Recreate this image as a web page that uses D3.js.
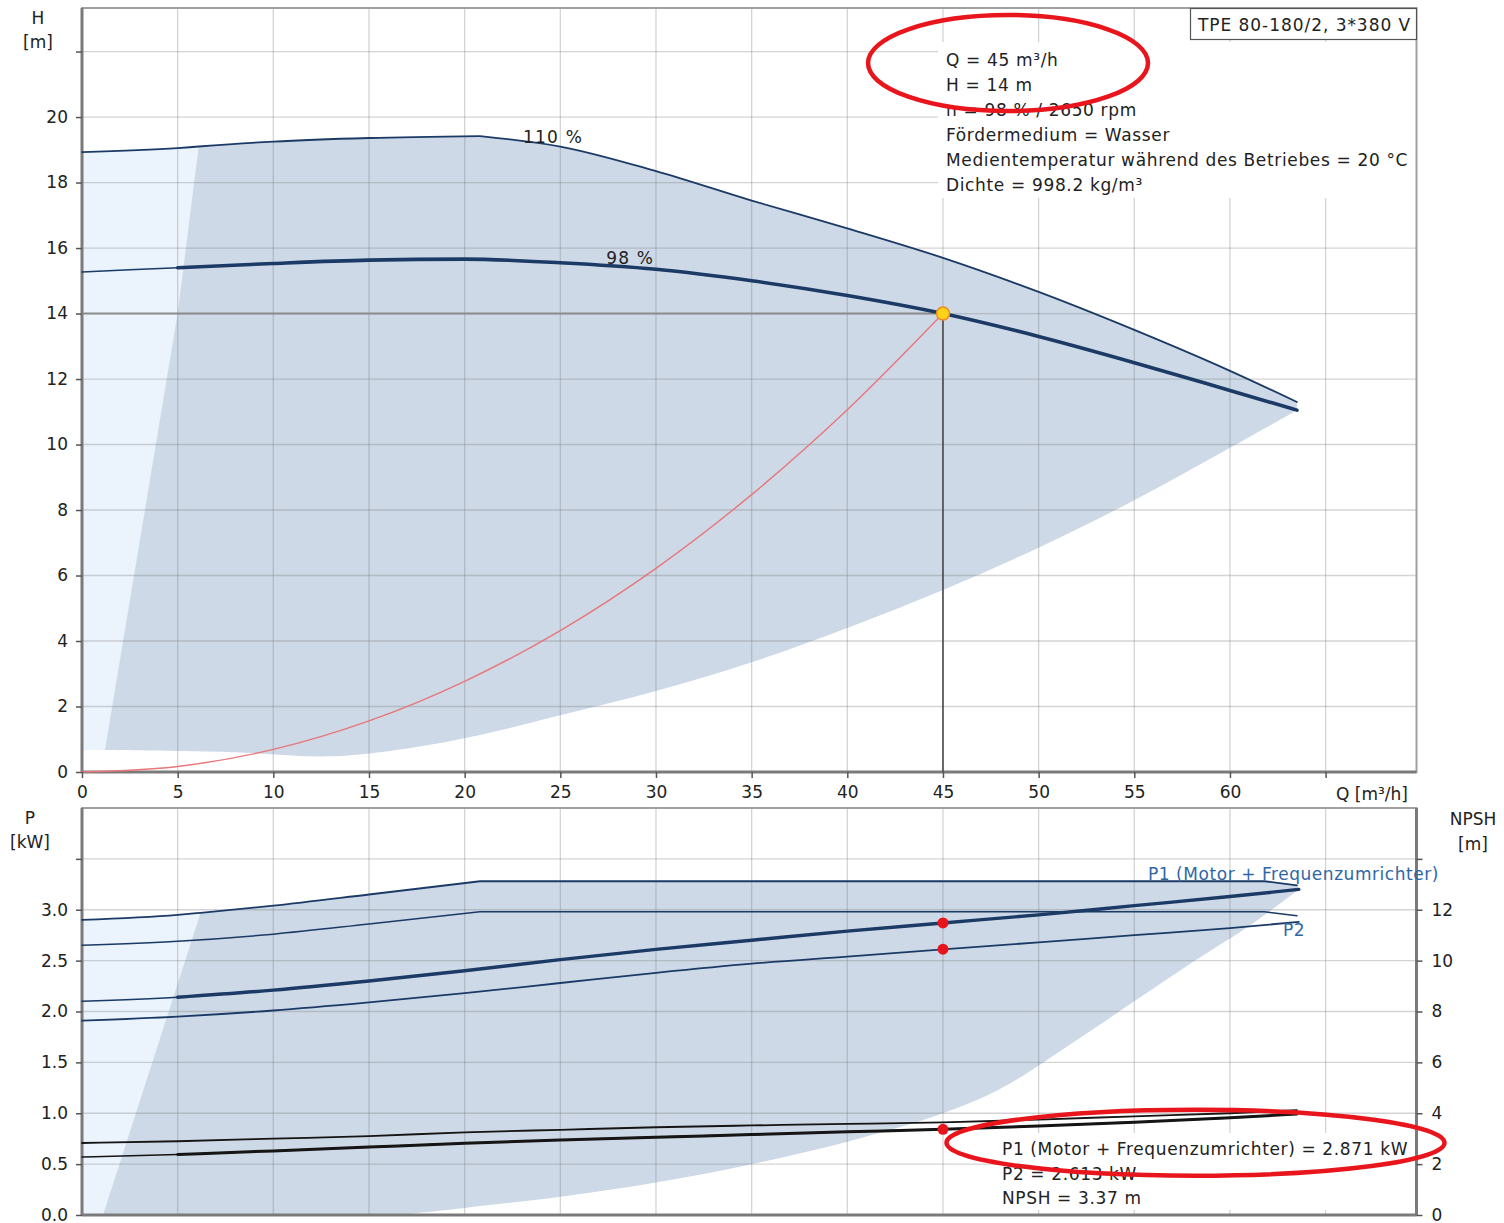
<!DOCTYPE html>
<html><head><meta charset="utf-8">
<script src="https://cdn.jsdelivr.net/npm/d3@7"></script>
<style>
body{margin:0;background:#fff}
svg{display:block}
text{font-family:"DejaVu Sans",Verdana,sans-serif;fill:#222}
</style>
</head><body>
<svg id="c" width="1504" height="1223"></svg>
<script>
// ================= DATA =================
const qTicks = [0,5,10,15,20,25,30,35,40,45,50,55,60,65];
const qLabels = ["0","5","10","15","20","25","30","35","40","45","50","55","60",""];
const qGrid = [5,10,15,20,25,30,35,40,45,50,55,60,65];
const hTicks = [0,2,4,6,8,10,12,14,16,18,20,22];
const hLabels = ["0","2","4","6","8","10","12","14","16","18","20",""];
const pTicks = [0,0.5,1.0,1.5,2.0,2.5,3.0,3.5];
const pLabels = ["0.0","0.5","1.0","1.5","2.0","2.5","3.0",""];
const nTicks = [0,2,4,6,8,10,12,14];
const nLabels = ["0","2","4","6","8","10","12",""];

// H(Q) curves
const h110Q = [0,5,6.1,10,15,20.8,25,30,35,40,45,50,55,60,63.5];
const h110H = [18.93,19.05,19.1,19.25,19.36,19.42,19.1,18.35,17.45,16.6,15.7,14.66,13.5,12.25,11.3];
const h98Q  = [0,5,10,15,20,25,30,35,40,45,50,55,60,63.5];
const h98H  = [15.27,15.4,15.53,15.63,15.66,15.55,15.35,15.0,14.55,14.0,13.3,12.5,11.65,11.05];
const sysQ  = [0,5,10,15,20,25,30,35,40,45];
const sysH  = [0,0.17,0.69,1.56,2.77,4.32,6.22,8.47,11.06,14.0];
// operating range (H)
const hEdgeQ = [1.2,5];
const hEdgeH = [0.67,14];
const hLowQ = [63.5,60,55,50,45,40,35,30,25,20.8,17,13,8,1.2];
const hLowH = [11.05,9.9,8.3,6.85,5.56,4.4,3.35,2.47,1.73,1.13,0.72,0.48,0.6,0.67];

// P(Q) curves
const p1maxQ = [0,5,6.2,10,15,20.8,40,61.8,63.5];
const p1maxP = [2.90,2.95,2.97,3.04,3.15,3.28,3.28,3.28,3.24];
const p2maxQ = [0,5,10,15,20.8,40,61.8,63.5];
const p2maxP = [2.65,2.69,2.76,2.86,2.98,2.98,2.98,2.94];
const p1Q = [0,5,10,15,20,25,30,35,40,45,50,55,60,63.6];
const p1P = [2.10,2.14,2.21,2.30,2.40,2.51,2.61,2.70,2.79,2.87,2.95,3.04,3.13,3.20];
const p2Q = [0,5,10,15,20,25,30,35,40,45,50,55,60,63.6];
const p2P = [1.91,1.95,2.01,2.09,2.18,2.28,2.38,2.47,2.54,2.61,2.68,2.75,2.82,2.88];
// NPSH curves
const nMaxQ = [0,5,10,15,20,25,30,35,40,45,50,55,60,63.5];
const nMaxV = [2.83,2.9,3.0,3.1,3.25,3.35,3.45,3.52,3.58,3.64,3.75,3.88,4.0,4.12];
const nQ = [0,5,10,15,20,25,30,35,40,45,50,55,60,63.5];
const nV = [2.28,2.38,2.52,2.67,2.82,2.95,3.06,3.16,3.27,3.37,3.5,3.65,3.82,3.97];
// operating range (P)
const pEdgeQ = [1.1];
const pEdgeP = [0];
const pLowQ = [63.6,61,58,55,52,48,45,40,35,30,25,20,16.5];
const pLowP = [3.2,2.84,2.48,2.1,1.72,1.24,1.0,0.72,0.5,0.32,0.18,0.07,0];
const pBaseQ = [16.5,1.1];
const pBaseP = [0,0];

// duty point
const dutyQ = 45, dutyH = 14, dutyP1 = 2.871, dutyP2 = 2.613, dutyNPSH = 3.37;

const title = "TPE 80-180/2, 3*380 V";
const infoTop = ["Q = 45 m³/h","H = 14 m","n = 98 % / 2650 rpm","Fördermedium = Wasser",
  "Medientemperatur während des Betriebes = 20 °C","Dichte = 998.2 kg/m³"];
const infoBottom = ["P1 (Motor + Frequenzumrichter) = 2.871 kW","P2 = 2.613 kW","NPSH = 3.37 m"];

// ================= SCALES =================
const svg = d3.select("#c");
const x  = d3.scaleLinear().domain([0,69.75]).range([82,1416.5]);
const yH = d3.scaleLinear().domain([0,23.33]).range([772,8]);
const yP = d3.scaleLinear().domain([0,4.0]).range([1215,808]);
const yN = d3.scaleLinear().domain([0,16]).range([1215,808]);

const NAVY = "#1b3a66", FILL = "#cdd9e7", LIGHT = "#ebf3fc", GRID = "rgba(120,120,120,0.32)";

function pts(Q,V){return Q.map((q,i)=>[q,V[i]]);}
function curvePath(Q,V,ys,knees,from,to){
  let p = pts(Q,V);
  if(from!=null) p = p.filter(d=>d[0]>=from);
  if(to!=null) p = p.filter(d=>d[0]<=to);
  const pieces=[]; let cur=[];
  p.forEach(d=>{cur.push(d); if(knees.includes(d[0]) && cur.length>1){pieces.push(cur); cur=[d];}});
  if(cur.length>1) pieces.push(cur);
  const lg = d3.line().x(d=>x(d[0])).y(d=>ys(d[1])).curve(d3.curveMonotoneX);
  return pieces.map((pc,i)=> i===0 ? lg(pc) : lg(pc).replace(/^M[^A-Za-z]*/,"")).join("");
}
function linPath(Q,V,ys){
  return d3.line().x(d=>x(d[0])).y(d=>ys(d[1]))(pts(Q,V));
}
function smoothPath(Q,V,ys){
  return d3.line().x(d=>x(d[0])).y(d=>ys(d[1])).curve(d3.curveCatmullRom.alpha(0.5))(pts(Q,V));
}
const toL = s => s.replace(/^M/,"L");

// ================= FILLS =================
svg.append("path")
  .attr("d", curvePath(h110Q,h110H,yH,[20.8],null,6.1) + `L${x(6.1)},${yH(0.67)}L${x(0)},${yH(0.67)}Z`)
  .attr("fill",LIGHT);
svg.append("path")
  .attr("d", linPath(hEdgeQ,hEdgeH,yH) + toL(curvePath(h110Q,h110H,yH,[20.8],6.1,null)) + toL(smoothPath(hLowQ,hLowH,yH)) + "Z")
  .attr("fill",FILL);
svg.append("path")
  .attr("d", curvePath(p1maxQ,p1maxP,yP,[20.8,61.8],null,6.2) + `L${x(6.2)},${yP(0)}L${x(0)},${yP(0)}Z`)
  .attr("fill",LIGHT);
svg.append("path")
  .attr("d", linPath(pEdgeQ,pEdgeP,yP) + toL(curvePath(p1maxQ,p1maxP,yP,[20.8,61.8],6.2,null)) + toL(smoothPath(pLowQ,pLowP,yP)) + toL(linPath(pBaseQ,pBaseP,yP)) + "Z")
  .attr("fill",FILL);

// ================= GRID =================
const grid = svg.append("g").attr("stroke",GRID).attr("stroke-width",1.3);
qGrid.forEach(q=>{
  grid.append("line").attr("x1",x(q)).attr("x2",x(q)).attr("y1",yH.range()[1]).attr("y2",yH.range()[0]);
  grid.append("line").attr("x1",x(q)).attr("x2",x(q)).attr("y1",yP.range()[1]).attr("y2",yP.range()[0]);
});
hTicks.slice(1).forEach(h=>{
  grid.append("line").attr("x1",x(0)).attr("x2",x.range()[1]).attr("y1",yH(h)).attr("y2",yH(h));
});
pTicks.slice(1).forEach(p=>{
  grid.append("line").attr("x1",x(0)).attr("x2",x.range()[1]).attr("y1",yP(p)).attr("y2",yP(p));
});

// ================= TEXT BOXES (white) =================
svg.append("rect").attr("x",938).attr("y",42).attr("width",x.range()[1]-938).attr("height",156).attr("fill","#fff");
svg.append("rect").attr("x",997).attr("y",1133).attr("width",x.range()[1]-997).attr("height",77).attr("fill","#fff");

// ================= FRAMES =================
[yH,yP].forEach(ys=>{
  svg.append("rect").attr("x",x(0)).attr("y",ys.range()[1]).attr("width",x.range()[1]-x(0)).attr("height",ys.range()[0]-ys.range()[1])
    .attr("fill","none").attr("stroke","#a0a0a0").attr("stroke-width",2);
});
const axisStroke = (x1,y1,x2,y2)=>svg.append("line").attr("x1",x1).attr("y1",y1).attr("x2",x2).attr("y2",y2).attr("stroke","#7a7a7a").attr("stroke-width",3);
axisStroke(x(0),yH.range()[1],x(0),yH(0));
axisStroke(x(0),yH(0),x.range()[1],yH(0));
axisStroke(x(0),yP.range()[1],x(0),yP(0));
axisStroke(x(0),yP(0),x.range()[1],yP(0));
axisStroke(x.range()[1],yP.range()[1],x.range()[1],yP(0));

// ================= CURVES =================
function drawCurve(d,color,w){
  svg.append("path").attr("d",d).attr("fill","none").attr("stroke",color).attr("stroke-width",w)
    .attr("stroke-linejoin","round").attr("stroke-linecap","round");
}
drawCurve(d3.line().x(d=>x(d[0])).y(d=>yH(d[1])).curve(d3.curveMonotoneX)(pts(sysQ,sysH)),"#e8767a",1.4);
svg.append("line").attr("x1",x(0)).attr("x2",x(dutyQ)).attr("y1",yH(dutyH)).attr("y2",yH(dutyH)).attr("stroke","#8c8c8c").attr("stroke-width",2);
svg.append("line").attr("x1",x(dutyQ)).attr("x2",x(dutyQ)).attr("y1",yH(dutyH)).attr("y2",yH(0)).attr("stroke","#4a4a4a").attr("stroke-width",1.6);

drawCurve(curvePath(h110Q,h110H,yH,[20.8]),NAVY,1.8);
drawCurve(curvePath(h98Q,h98H,yH,[]),NAVY,1.6);
drawCurve(curvePath(h98Q,h98H,yH,[],5,null),NAVY,3.6);

drawCurve(curvePath(p1maxQ,p1maxP,yP,[20.8,61.8]),NAVY,1.8);
drawCurve(curvePath(p2maxQ,p2maxP,yP,[20.8,61.8]),NAVY,1.5);
drawCurve(curvePath(p1Q,p1P,yP,[]),NAVY,1.6);
drawCurve(curvePath(p1Q,p1P,yP,[],5,null),NAVY,3.4);
drawCurve(curvePath(p2Q,p2P,yP,[]),NAVY,1.8);
drawCurve(curvePath(nMaxQ,nMaxV,yN,[]),"#151515",1.8);
drawCurve(curvePath(nQ,nV,yN,[]),"#151515",1.6);
drawCurve(curvePath(nQ,nV,yN,[],5,null),"#151515",3.0);

svg.append("circle").attr("cx",x(dutyQ)).attr("cy",yH(dutyH)).attr("r",6.5).attr("fill","#ffd21a").attr("stroke","#f08a1c").attr("stroke-width",1.5);
[[yP,dutyP1],[yP,dutyP2],[yN,dutyNPSH]].forEach(([ys,v])=>{
  svg.append("circle").attr("cx",x(dutyQ)).attr("cy",ys(v)).attr("r",5.5).attr("fill","#e8141c");
});

// ================= AXES =================
function styleAxis(g){
  g.select(".domain").remove();
  g.selectAll(".tick line").attr("stroke","#555").attr("stroke-width",1.5);
  g.selectAll(".tick text").attr("font-size",17).attr("fill","#222").style("font-family",'"DejaVu Sans",Verdana,sans-serif');
}
svg.append("g").attr("transform",`translate(${x(0)},0)`)
  .call(d3.axisLeft(yH).tickValues(hTicks).tickFormat((d,i)=>hLabels[i]).tickSize(6).tickPadding(8)).call(styleAxis);
svg.append("g").attr("transform",`translate(0,${yH(0)})`)
  .call(d3.axisBottom(x).tickValues(qTicks).tickFormat((d,i)=>qLabels[i]).tickSize(6).tickPadding(8)).call(styleAxis);
svg.append("g").attr("transform",`translate(${x(0)},0)`)
  .call(d3.axisLeft(yP).tickValues(pTicks).tickFormat((d,i)=>pLabels[i]).tickSize(6).tickPadding(8)).call(styleAxis);
svg.append("g").attr("transform",`translate(${x.range()[1]},0)`)
  .call(d3.axisRight(yN).tickValues(nTicks).tickFormat((d,i)=>nLabels[i]).tickSize(6).tickPadding(9)).call(styleAxis);

function txt(s,xx,yy,opt={}){
  const t = svg.append("text").attr("x",xx).attr("y",yy).attr("font-size",opt.size||17).text(s);
  if(opt.anchor) t.attr("text-anchor",opt.anchor);
  if(opt.fill) t.style("fill",opt.fill);
  if(opt.ls) t.attr("letter-spacing",opt.ls);
  return t;
}
txt("H",38,24,{anchor:"middle"});
txt("[m]",38,48,{anchor:"middle"});
txt("Q [m³/h]",1336,800);
txt("P",30,824,{anchor:"middle"});
txt("[kW]",30,848,{anchor:"middle"});
txt("NPSH",1473,825,{anchor:"middle"});
txt("[m]",1473,850,{anchor:"middle"});

txt("110 %",x(23.05),yH(19.21),{ls:1.2});
txt("98 %",x(27.4),yH(15.5),{ls:1.2});
txt("P1 (Motor + Frequenzumrichter)",1148,880,{fill:"#2f67a6",ls:0.55});
txt("P2",1283,936,{fill:"#2f67a6",ls:0.5});

svg.append("rect").attr("x",1190.5).attr("y",8.5).attr("width",226).attr("height",31).attr("fill","#fff").attr("stroke","#555").attr("stroke-width",1.2);
txt(title,1198,31,{ls:0.95});

infoTop.forEach((s,i)=>txt(s,946,66+25*i,{ls:0.65}));
infoBottom.forEach((s,i)=>txt(s,1002,1155+24.5*i,{ls:0.63}));

svg.append("ellipse").attr("cx",x(48.4)).attr("cy",yH(21.65)).attr("rx",140).attr("ry",48)
  .attr("fill","none").attr("stroke","#e8161c").attr("stroke-width",4.5);
svg.append("ellipse").attr("cx",x(58.2)).attr("cy",yP(0.71)).attr("rx",249).attr("ry",33)
  .attr("fill","none").attr("stroke","#e8161c").attr("stroke-width",4.5);
</script>
</body></html>
